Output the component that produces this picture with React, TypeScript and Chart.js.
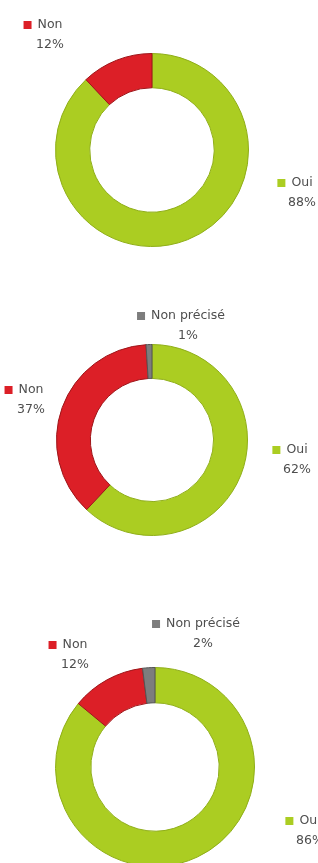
import React, { useEffect, useRef } from "react";
import { Chart, registerables } from "chart.js";

Chart.register(...registerables);

// ---- Data ----
const labels1 = ["Oui", "Non"];
const values1 = [88, 12];

const labels2 = ["Oui", "Non", "Non précisé"];
const values2 = [62, 37, 1];

const labels3 = ["Oui", "Non", "Non précisé"];
const values3 = [86, 12, 2];

// ---- Styles ----
const COLORS: Record<string, string> = {
  Oui: "#abcd22",
  Non: "#dc1f27",
  "Non précisé": "#7d7d7d",
};
const BORDERS: Record<string, string> = {
  Oui: "#8fae18",
  Non: "#9e1519",
  "Non précisé": "#555555",
};

// ---- Layout (canvas placement, doughnut padding, label anchors) ----
type LayoutSpec = {
  top: number;
  height: number;
  padding: { left: number; right: number; top: number; bottom: number };
  labelAnchors: Record<string, [number, number]>;
};

const layout1: LayoutSpec = {
  top: 0,
  height: 280,
  padding: { left: 55, right: 69, top: 53, bottom: 33 },
  labelAnchors: { Oui: [302, 183], Non: [50, 25] },
};
const layout2: LayoutSpec = {
  top: 280,
  height: 290,
  padding: { left: 56, right: 70, top: 64, bottom: 34 },
  labelAnchors: { Oui: [297, 170], Non: [31, 110], "Non précisé": [188, 36] },
};
const layout3: LayoutSpec = {
  top: 570,
  height: 310,
  padding: { left: 55, right: 63, top: 97, bottom: 13 },
  labelAnchors: { Oui: [310, 251], Non: [75, 75], "Non précisé": [203, 54] },
};

const FONT = '12.5px "DejaVu Sans"';
const TEXT_COLOR = "#4e4e4e";

function Donut({ labels, values, spec }: { labels: string[]; values: number[]; spec: LayoutSpec }) {
  const ref = useRef<HTMLCanvasElement | null>(null);
  useEffect(() => {
    if (!ref.current) return;
    const labelPlugin = {
      id: "outLabels",
      afterDraw(chart: any) {
        const ctx = chart.ctx as CanvasRenderingContext2D;
        const lbls = chart.data.labels as string[];
        const vals = chart.data.datasets[0].data as number[];
        ctx.save();
        ctx.font = FONT;
        ctx.textBaseline = "middle";
        lbls.forEach((name, i) => {
          const anchor = spec.labelAnchors[name];
          if (!anchor) return;
          const [cx, cy] = anchor;
          const w = ctx.measureText(name).width;
          const left = cx - w / 2;
          // marker
          ctx.fillStyle = COLORS[name];
          ctx.fillRect(left - 14, cy - 4, 8, 8);
          // name
          ctx.fillStyle = TEXT_COLOR;
          ctx.textAlign = "left";
          ctx.fillText(name, left, cy);
          // percent
          ctx.textAlign = "center";
          ctx.fillText(`${vals[i]}%`, cx, cy + 20);
        });
        ctx.restore();
      },
    };
    const chart = new Chart(ref.current, {
      type: "doughnut",
      data: {
        labels,
        datasets: [
          {
            data: values,
            backgroundColor: labels.map((l) => COLORS[l]),
            borderColor: labels.map((l) => BORDERS[l]),
            borderWidth: 1,
          },
        ],
      },
      options: {
        responsive: false,
        animation: false,
        cutout: "64.5%",
        layout: { padding: spec.padding },
        plugins: {
          legend: { display: false },
          tooltip: { enabled: false },
        },
      },
      plugins: [labelPlugin],
    });
    return () => chart.destroy();
  }, [labels, values, spec]);
  return (
    <canvas
      ref={ref}
      width={318}
      height={spec.height}
      style={{ position: "absolute", left: 0, top: spec.top, width: 318, height: spec.height }}
    />
  );
}

export default function App() {
  return (
    <div
      style={{
        position: "fixed",
        left: 0,
        top: 0,
        width: 318,
        height: 863,
        overflow: "hidden",
        background: "#ffffff",
      }}
    >
      <Donut labels={labels1} values={values1} spec={layout1} />
      <Donut labels={labels2} values={values2} spec={layout2} />
      <Donut labels={labels3} values={values3} spec={layout3} />
    </div>
  );
}
